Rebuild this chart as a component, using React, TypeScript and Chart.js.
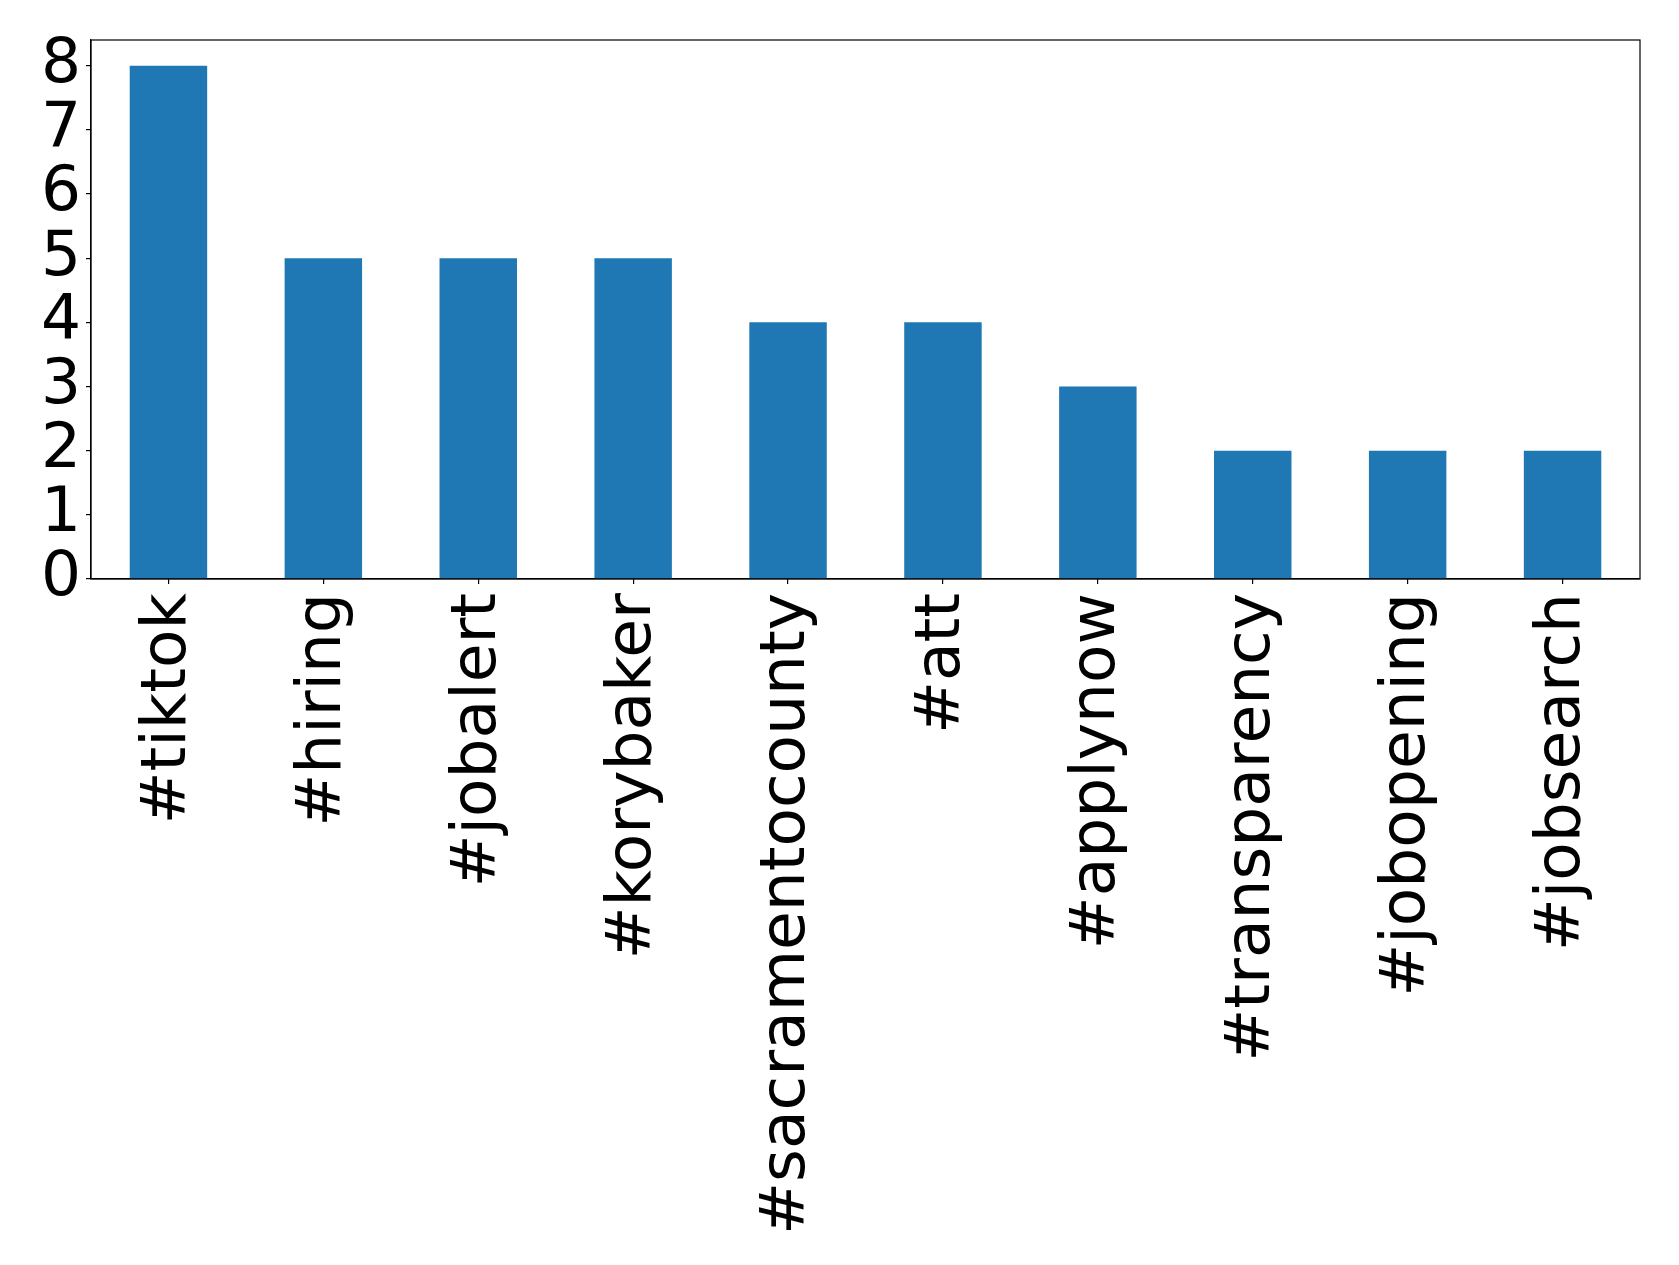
import React, { useEffect, useRef } from "react";
import { Chart, registerables } from "chart.js";

Chart.register(...registerables);

const categories = [
  "#tiktok",
  "#hiring",
  "#jobalert",
  "#korybaker",
  "#sacramentocounty",
  "#att",
  "#applynow",
  "#transparency",
  "#jobopening",
  "#jobsearch",
];
const counts = [8, 5, 5, 5, 4, 4, 3, 2, 2, 2];
const yTicks = [0, 1, 2, 3, 4, 5, 6, 7, 8];

const W = 1679;
const H = 1265;
const FONT = "'DejaVu Sans', sans-serif";

const frame = {
  id: "frame",
  afterDraw(chart: any) {
    const { ctx, chartArea } = chart;
    ctx.save();
    ctx.strokeStyle = "#000";
    ctx.lineWidth = 1.2;
    ctx.strokeRect(chartArea.left, chartArea.top, chartArea.right - chartArea.left, chartArea.bottom - chartArea.top);
    ctx.restore();
  },
};

export default function App() {
  const ref = useRef<HTMLCanvasElement | null>(null);
  useEffect(() => {
    document.body.style.margin = "0";
    const chart = new Chart(ref.current as HTMLCanvasElement, {
      type: "bar",
      data: {
        labels: categories,
        datasets: [
          {
            data: counts,
            backgroundColor: "#1f77b4",
            barPercentage: 0.5,
            categoryPercentage: 1,
          },
        ],
      },
      options: {
        animation: false,
        responsive: false,
        maintainAspectRatio: false,
        layout: { padding: { top: 40, right: 39, left: 0, bottom: 0 } },
        plugins: { legend: { display: false }, tooltip: { enabled: false } },
        scales: {
          x: {
            offset: true,
            grid: { display: true, drawOnChartArea: false, drawTicks: true, tickLength: 5, color: "#000", lineWidth: 1.2, offset: false },
            border: { display: true, color: "#000", width: 1.2 },
            ticks: {
              color: "#000",
              font: { family: FONT, size: 63 },
              minRotation: 90,
              maxRotation: 90,
              autoSkip: false,
              padding: 9,
            },
            afterFit(scale: any) {
              scale.height = H - 579;
              scale.paddingLeft = 0;
              scale.paddingRight = 0;
            },
          },
          y: {
            min: 0,
            max: 8.4,
            grid: { display: true, drawOnChartArea: false, drawTicks: true, tickLength: 5, color: "#000", lineWidth: 1.2 },
            border: { display: true, color: "#000", width: 1.2 },
            ticks: {
              color: "#000",
              font: { family: FONT, size: 63 },
              padding: 5,
              stepSize: 1,
              autoSkip: false,
            },
            afterBuildTicks(scale: any) {
              scale.ticks = yTicks.map((v) => ({ value: v }));
            },
            afterFit(scale: any) {
              scale.width = 91;
              scale.paddingTop = 0;
              scale.paddingBottom = 0;
            },
          },
        },
      },
      plugins: [frame],
    });
    return () => chart.destroy();
  }, []);
  return (
    <div style={{ position: "absolute", left: 0, top: 0, width: W, height: H, background: "#fff" }}>
      <canvas ref={ref} width={W} height={H} style={{ width: W, height: H, display: "block" }} />
    </div>
  );
}
